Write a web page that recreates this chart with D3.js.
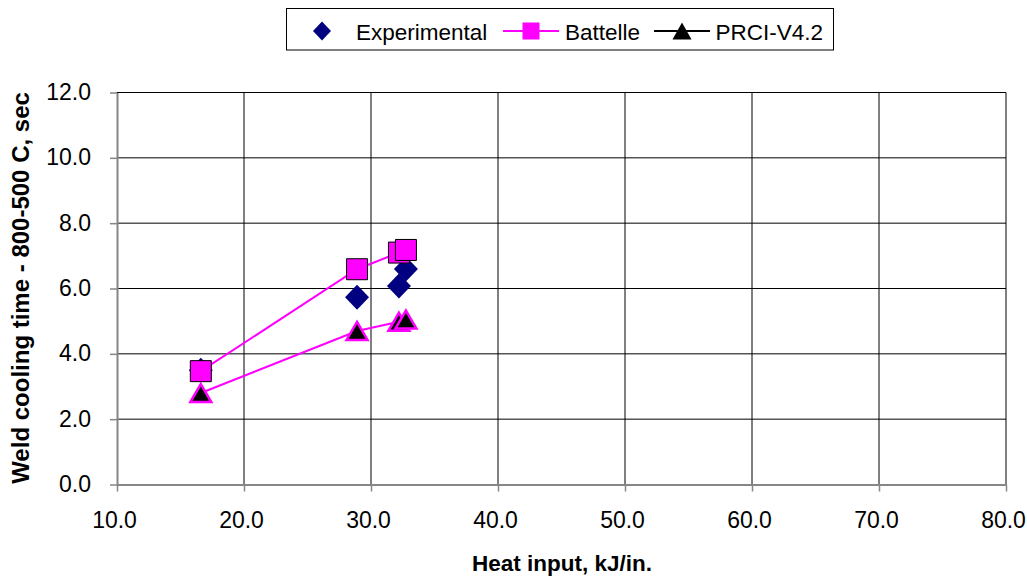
<!DOCTYPE html>
<html>
<head>
<meta charset="utf-8">
<script src="https://cdn.jsdelivr.net/npm/d3@7/dist/d3.min.js"></script>
<style>
  html, body { margin: 0; padding: 0; background: #fff; }
  svg { display: block; font-family: "Liberation Sans", Arial, sans-serif; }
</style>
</head>
<body>
<svg id="chart" width="1027" height="576"></svg>
<script>
// Heat input (kJ/in.) for each weld
const heatInput = [16.6, 28.9, 32.2, 32.75];
// 800-500 C cooling time (sec)
const experimental = [3.5, 5.73, 6.08, 6.6];
const battelle = [3.47, 6.59, 7.10, 7.18];
const prci = [2.8, 4.7, 4.98, 5.05];

const xTicks = [10, 20, 30, 40, 50, 60, 70, 80];
const yTicks = [0, 2, 4, 6, 8, 10, 12];
const seriesNames = ["Experimental", "Battelle", "PRCI-V4.2"];

const svg = d3.select("#chart");
const plot = { left: 117, right: 1006, top: 92.5, bottom: 484.5 };

const x = d3.scaleLinear().domain([10, 80]).range([plot.left, plot.right]);
const y = d3.scaleLinear().domain([0, 12]).range([plot.bottom, plot.top]);
const fmt = d3.format(".1f");

const MAGENTA = "#ff00ff";
const NAVY = "#000080";
const AXIS_GREY = "#868686";

// marker shapes
const diamondPath = (w, h) => `M0,${-h} L${w},0 L0,${h} L${-w},0 Z`;
const squarePath = s => `M${-s},${-s} H${s} V${s} H${-s} Z`;
const trianglePath = (w, h) => `M0,${-h} L${w},${h} L${-w},${h} Z`;

// gridlines
const grid = svg.append("g");
grid.selectAll("line.v").data(xTicks.slice(1)).join("line")
  .attr("x1", d => x(d)).attr("x2", d => x(d))
  .attr("y1", plot.top).attr("y2", plot.bottom)
  .attr("stroke", "#000").attr("stroke-width", 1);
grid.selectAll("line.h").data(yTicks.slice(1)).join("line")
  .attr("x1", plot.left).attr("x2", plot.right)
  .attr("y1", d => y(d)).attr("y2", d => y(d))
  .attr("stroke", "#000").attr("stroke-width", 1);

// axes
const yAxis = svg.append("g").attr("transform", `translate(${plot.left},0)`)
  .call(d3.axisLeft(y).tickValues(yTicks).tickFormat(fmt).tickSize(7).tickSizeOuter(0).tickPadding(19));
const xAxis = svg.append("g").attr("transform", `translate(0,${plot.bottom})`)
  .call(d3.axisBottom(x).tickValues(xTicks).tickFormat(fmt).tickSize(7).tickSizeOuter(0).tickPadding(20));

[yAxis, xAxis].forEach(a => {
  a.select(".domain").attr("stroke", AXIS_GREY).attr("stroke-width", 2);
  a.selectAll(".tick line").attr("stroke", AXIS_GREY).attr("stroke-width", 1.5);
  a.selectAll(".tick text").attr("fill", "#000")
    .style("font-size", "23px").style("font-family", "'Liberation Sans', Arial, sans-serif");
});
yAxis.selectAll(".tick text").attr("dy", "0.3em");
xAxis.selectAll(".tick text").attr("dx", -3).attr("dy", "0.71em");

// axis titles
svg.append("text")
  .attr("x", 562).attr("y", 571)
  .attr("text-anchor", "middle")
  .style("font-size", "22.5px").style("font-weight", "bold")
  .text("Heat input, kJ/in.");
svg.append("text")
  .attr("transform", "translate(29,288) rotate(-90)")
  .attr("text-anchor", "middle")
  .style("font-size", "24px").style("font-weight", "bold")
  .text("Weld cooling time - 800-500 C, sec");

const pts = vals => heatInput.map((h, i) => [x(h), y(vals[i])]);
const line = d3.line();

// Experimental: markers only
svg.append("g").selectAll("path").data(pts(experimental)).join("path")
  .attr("d", diamondPath(12, 12.5))
  .attr("transform", d => `translate(${d[0]},${d[1]})`)
  .attr("fill", NAVY);

// Battelle: line and squares
svg.append("path").datum(pts(battelle))
  .attr("d", line).attr("fill", "none")
  .attr("stroke", MAGENTA).attr("stroke-width", 2);
svg.append("g").selectAll("path").data(pts(battelle)).join("path")
  .attr("d", squarePath(10.5))
  .attr("transform", d => `translate(${d[0]},${d[1]})`)
  .attr("fill", MAGENTA).attr("stroke", "#000").attr("stroke-width", 1);

// PRCI-V4.2: line and triangles
svg.append("path").datum(pts(prci))
  .attr("d", line).attr("fill", "none")
  .attr("stroke", MAGENTA).attr("stroke-width", 2);
svg.append("g").selectAll("path").data(pts(prci)).join("path")
  .attr("d", trianglePath(10.5, 9))
  .attr("transform", d => `translate(${d[0]},${d[1]})`)
  .attr("fill", "#000").attr("stroke", MAGENTA).attr("stroke-width", 2.5)
  .attr("stroke-linejoin", "miter");

// legend
const legend = svg.append("g");
legend.append("rect")
  .attr("x", 286.5).attr("y", 8.5).attr("width", 547).attr("height", 41.5)
  .attr("fill", "#fff").attr("stroke", "#000").attr("stroke-width", 1);

const ly = 31;
legend.append("path").attr("d", diamondPath(9, 9.5))
  .attr("transform", `translate(322,${ly})`).attr("fill", NAVY);

legend.append("line").attr("x1", 503).attr("x2", 559).attr("y1", ly).attr("y2", ly)
  .attr("stroke", MAGENTA).attr("stroke-width", 2);
legend.append("path").attr("d", squarePath(8.5))
  .attr("transform", `translate(531,${ly})`).attr("fill", MAGENTA);

legend.append("line").attr("x1", 654).attr("x2", 710).attr("y1", ly).attr("y2", ly)
  .attr("stroke", "#000").attr("stroke-width", 2);
legend.append("path").attr("d", trianglePath(9.5, 8.5))
  .attr("transform", `translate(682,${ly})`).attr("fill", "#000");

const labelX = [356, 565, 715.5];
legend.selectAll("text.lbl").data(seriesNames).join("text")
  .attr("x", (d, i) => labelX[i]).attr("y", 39.5)
  .style("font-size", "22.5px")
  .text(d => d);
</script>
</body>
</html>
